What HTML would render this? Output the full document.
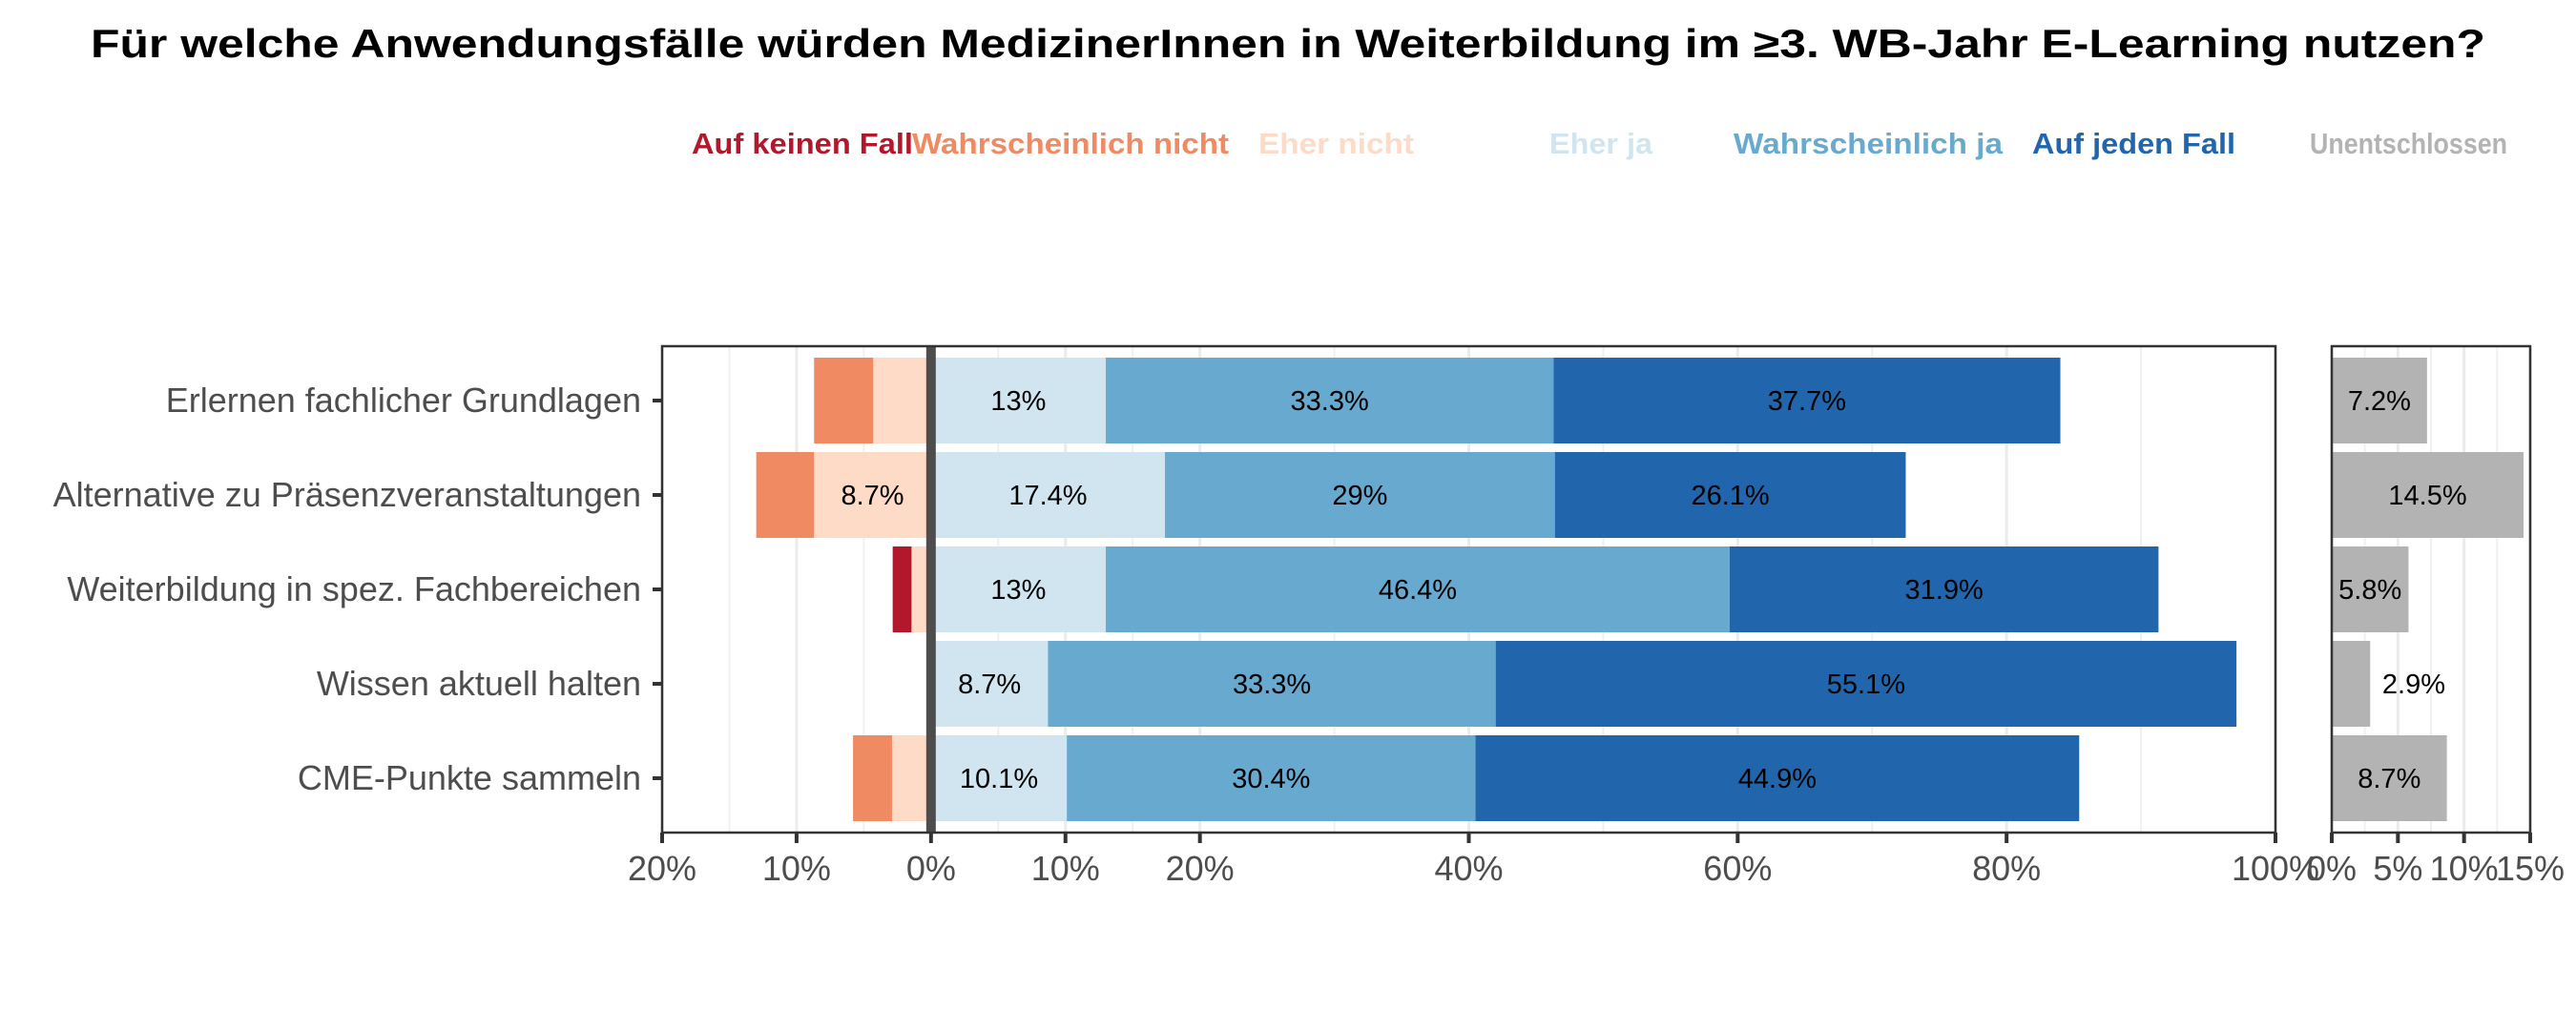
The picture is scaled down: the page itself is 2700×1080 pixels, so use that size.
<!DOCTYPE html>
<html><head><meta charset="utf-8"><style>
html,body{margin:0;padding:0;background:#fff;}
svg{display:block;font-family:"Liberation Sans",Arial,sans-serif;}
</style></head><body>
<svg id="chart" width="2700" height="1080" viewBox="0 0 2700 1080" xmlns="http://www.w3.org/2000/svg">
<text x="1350" y="60" text-anchor="middle" font-size="42" font-weight="bold" fill="#000" textLength="2510" lengthAdjust="spacingAndGlyphs">Für welche Anwendungsfälle würden MedizinerInnen in Weiterbildung im ≥3. WB-Jahr E-Learning nutzen?</text>
<g id="legend"></g>
<g id="main"></g>
<g id="side"></g>
</svg>
<script>
const categories = ["Erlernen fachlicher Grundlagen","Alternative zu Präsenzveranstaltungen","Weiterbildung in spez. Fachbereichen","Wissen aktuell halten","CME-Punkte sammeln"];
const aufKeinenFall = [0, 0, 1.4, 0, 0];
const wahrscheinlichNicht = [4.4, 4.3, 0, 0, 2.9];
const eherNicht = [4.3, 8.7, 1.45, 0, 2.9];
const eherJa = [13, 17.4, 13, 8.7, 10.1];
const wahrscheinlichJa = [33.3, 29, 46.4, 33.3, 30.4];
const aufJedenFall = [37.7, 26.1, 31.9, 55.1, 44.9];
const unentschlossen = [7.2, 14.5, 5.8, 2.9, 8.7];
const mainTicks = [-20, -10, 0, 10, 20, 40, 60, 80, 100];
const mainTickLabels = ["20%","10%","0%","10%","20%","40%","60%","80%","100%"];
const sideTicks = [0, 5, 10, 15];
const sideTickLabels = ["0%","5%","10%","15%"];
const legendLabels = ["Auf keinen Fall","Wahrscheinlich nicht","Eher nicht","Eher ja","Wahrscheinlich ja","Auf jeden Fall","Unentschlossen"];

const NS = "http://www.w3.org/2000/svg";
const colors = ["#b2182b","#ef8a62","#fddbc7","#d1e5f0","#67a9cf","#2166ac","#b3b3b3"];
const P = {l:694, r:2385, t:363, b:873};
const S = {l:2444, r:2652};
const xMain = v => P.l + (v + 20) / 120 * (P.r - P.l);
const xSide = v => S.l + v / 15 * (S.r - S.l);
const rowStep = 99;
const yC = i => 420 + rowStep * i;
const barH = 90;

function mk(tag, attrs, parent, text) {
  const e = document.createElementNS(NS, tag);
  for (const k in attrs) e.setAttribute(k, attrs[k]);
  if (text !== undefined) e.textContent = text;
  parent.appendChild(e);
  return e;
}
const main = document.getElementById('main');
const side = document.getElementById('side');
const legend = document.getElementById('legend');

const legX = [725, 956, 1319, 1624, 1817, 2130, 2421];
const legW = [232, 332, 163, 108, 282, 213, 207];
legendLabels.forEach((t, i) => {
  const e = mk('text', {x: legX[i], y: 161, 'font-size': 31, 'font-weight': 'bold', fill: colors[i], textLength: legW[i], lengthAdjust: 'spacingAndGlyphs'}, legend, t);
  
  
});

[-15, -5, 5, 15, 30, 50, 70, 90].forEach(v => {
  const g = mk('line', {x1: xMain(v), x2: xMain(v), y1: P.t, y2: P.b, stroke: '#f0f0f0', 'stroke-width': 2}, main);
  
  
});
mainTicks.forEach(v => {
  const g = mk('line', {x1: xMain(v), x2: xMain(v), y1: P.t, y2: P.b, stroke: '#ebebeb', 'stroke-width': 3}, main);
  
  
});

function label(parent, x, y, v) {
  const t = mk('text', {x: x, y: y + 10, 'text-anchor': 'middle', 'font-size': 29, fill: '#000'}, parent, (Math.round(v * 10) / 10) + '%');
  
  
}

categories.forEach((c, i) => {
  const y = yC(i);
  let cum = 0;
  [[eherNicht, 2], [wahrscheinlichNicht, 1], [aufKeinenFall, 0]].forEach(([arr, ci]) => {
    const v = arr[i];
    if (v > 0) {
      const r = mk('rect', {x: xMain(-(cum + v)), y: y - barH / 2, width: xMain(-cum) - xMain(-(cum + v)), height: barH, fill: colors[ci]}, main);
      
      
      if (v >= 5) label(main, xMain(-(cum + v / 2)), y, v);
    }
    cum += v;
  });
  cum = 0;
  [[eherJa, 3], [wahrscheinlichJa, 4], [aufJedenFall, 5]].forEach(([arr, ci]) => {
    const v = arr[i];
    if (v > 0) {
      const r = mk('rect', {x: xMain(cum), y: y - barH / 2, width: xMain(cum + v) - xMain(cum), height: barH, fill: colors[ci]}, main);
      
      
      if (v >= 5) label(main, xMain(cum + v / 2), y, v);
    }
    cum += v;
  });
  const t = mk('text', {x: 672, y: y + 12, 'text-anchor': 'end', 'font-size': 36, fill: '#4d4d4d'}, main, c);
  
  
  const tk = mk('line', {x1: P.l - 10, x2: P.l, y1: y, y2: y, stroke: '#333', 'stroke-width': 4}, main);
  
  
});

const z = mk('rect', {x: xMain(0) - 5, y: P.t, width: 10, height: P.b - P.t, fill: '#4d4d4d'}, main);


const fr = mk('rect', {x: P.l, y: P.t, width: P.r - P.l, height: P.b - P.t, fill: 'none', stroke: '#333', 'stroke-width': 2.5}, main);


mainTicks.forEach((v, i) => {
  const tk = mk('line', {x1: xMain(v), x2: xMain(v), y1: P.b, y2: P.b + 11, stroke: '#333', 'stroke-width': 4}, main);
  
  
  const t = mk('text', {x: xMain(v), y: P.b + 50, 'text-anchor': 'middle', 'font-size': 36, fill: '#4d4d4d'}, main, mainTickLabels[i]);
  
  
});

[2.5, 7.5, 12.5].forEach(v => {
  const g = mk('line', {x1: xSide(v), x2: xSide(v), y1: P.t, y2: P.b, stroke: '#f0f0f0', 'stroke-width': 2}, side);
  
  
});
sideTicks.forEach(v => {
  const g = mk('line', {x1: xSide(v), x2: xSide(v), y1: P.t, y2: P.b, stroke: '#ebebeb', 'stroke-width': 3}, side);
  
  
});
categories.forEach((c, i) => {
  const v = unentschlossen[i];
  const y = yC(i);
  const r = mk('rect', {x: xSide(0), y: y - barH / 2, width: xSide(v) - xSide(0), height: barH, fill: colors[6]}, side);
  
  
  label(side, v < 4 ? xSide(v + 3.3) : xSide(v / 2), y, v);
});
const fr2 = mk('rect', {x: S.l, y: P.t, width: S.r - S.l, height: P.b - P.t, fill: 'none', stroke: '#333', 'stroke-width': 2.5}, side);


sideTicks.forEach((v, i) => {
  const tk = mk('line', {x1: xSide(v), x2: xSide(v), y1: P.b, y2: P.b + 11, stroke: '#333', 'stroke-width': 4}, side);
  
  
  const t = mk('text', {x: xSide(v), y: P.b + 50, 'text-anchor': 'middle', 'font-size': 36, fill: '#4d4d4d'}, side, sideTickLabels[i]);
  
  
});
</script>
</body></html>
